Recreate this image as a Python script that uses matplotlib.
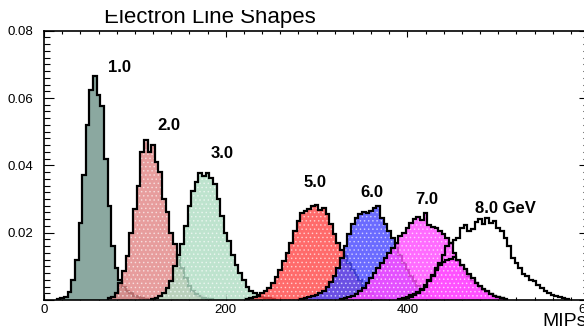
import matplotlib
matplotlib.use("Agg")
import matplotlib.pyplot as plt
import numpy as np
from matplotlib.patches import Rectangle

plt.rcParams['font.family'] = ['Liberation Sans', 'DejaVu Sans']
plt.rcParams['hatch.linewidth'] = 0.6

# ---------------- data ----------------
BIN_WIDTH = 4  # MIPs per bin

labels = ['1.0', '2.0', '3.0', '5.0', '6.0', '7.0', '', '8.0 GeV']
starts = [14, 70, 118, 222, 282, 326, 390, 394]

h1 = [0.0002, 0.0005, 0.0010, 0.0025, 0.0060, 0.0120, 0.0230, 0.0370, 0.0520, 0.0625,
      0.0665, 0.0610, 0.0575, 0.0420, 0.0280, 0.0160, 0.0095, 0.0058, 0.0040, 0.0028,
      0.0020, 0.0013, 0.0008, 0.0005, 0.0003]
h2 = [0.0005, 0.0010, 0.0022, 0.0050, 0.0085, 0.0130, 0.0200, 0.0270, 0.0340, 0.0440,
      0.0475, 0.0440, 0.0460, 0.0410, 0.0380, 0.0300, 0.0260, 0.0200, 0.0165, 0.0125,
      0.0095, 0.0065, 0.0042, 0.0028, 0.0018, 0.0011, 0.0007, 0.0004, 0.0002]
h3 = [0.0003, 0.0007, 0.0012, 0.0020, 0.0035, 0.0055, 0.0100, 0.0135, 0.0165, 0.0220,
      0.0280, 0.0325, 0.0350, 0.0378, 0.0368, 0.0378, 0.0362, 0.0345, 0.0300, 0.0250,
      0.0200, 0.0175, 0.0135, 0.0105, 0.0080, 0.0058, 0.0040, 0.0028, 0.0020, 0.0014,
      0.0010, 0.0007, 0.0005, 0.0003]
h5 = [0.0003, 0.0005, 0.0008, 0.0013, 0.0020, 0.0027, 0.0035, 0.0050, 0.0068, 0.0090,
      0.0115, 0.0140, 0.0170, 0.0205, 0.0235, 0.0258, 0.0265, 0.0270, 0.0280, 0.0282,
      0.0268, 0.0272, 0.0255, 0.0225, 0.0195, 0.0170, 0.0150, 0.0130, 0.0110, 0.0090,
      0.0075, 0.0058, 0.0042, 0.0030, 0.0020, 0.0013, 0.0008, 0.0005]
h6 = [0.0003, 0.0005, 0.0008, 0.0011, 0.0015, 0.0020, 0.0028, 0.0038, 0.0052, 0.0070,
      0.0095, 0.0125, 0.0160, 0.0195, 0.0225, 0.0245, 0.0255, 0.0262, 0.0258, 0.0265,
      0.0272, 0.0278, 0.0245, 0.0225, 0.0205, 0.0185, 0.0165, 0.0135, 0.0110, 0.0090,
      0.0072, 0.0056, 0.0042, 0.0030, 0.0020, 0.0012, 0.0007, 0.0004]
h7 = [0.0003, 0.0005, 0.0008, 0.0012, 0.0018, 0.0026, 0.0036, 0.0050, 0.0065, 0.0080,
      0.0095, 0.0110, 0.0125, 0.0140, 0.0155, 0.0170, 0.0190, 0.0200, 0.0215, 0.0230,
      0.0242, 0.0248, 0.0238, 0.0258, 0.0222, 0.0218, 0.0215, 0.0205, 0.0195, 0.0185,
      0.0170, 0.0140, 0.0115, 0.0100, 0.0085, 0.0072, 0.0060, 0.0050, 0.0040, 0.0030,
      0.0024, 0.0017, 0.0012, 0.0008, 0.0005]
h7b = [0.0003, 0.0006, 0.0010, 0.0014, 0.0019, 0.0025, 0.0033, 0.0045, 0.0060, 0.0075,
       0.0095, 0.0105, 0.0112, 0.0118, 0.0123, 0.0128, 0.0120, 0.0105, 0.0092, 0.0078,
       0.0065, 0.0050, 0.0042, 0.0034, 0.0026, 0.0019, 0.0013, 0.0009, 0.0005, 0.0003]
h8 = [0.0003, 0.0006, 0.0010, 0.0015, 0.0022, 0.0030, 0.0040, 0.0055, 0.0070, 0.0090,
      0.0110, 0.0135, 0.0160, 0.0170, 0.0178, 0.0185, 0.0215, 0.0222, 0.0205, 0.0212,
      0.0232, 0.0240, 0.0225, 0.0243, 0.0228, 0.0235, 0.0215, 0.0205, 0.0185, 0.0160,
      0.0125, 0.0110, 0.0095, 0.0078, 0.0072, 0.0060, 0.0055, 0.0045, 0.0035, 0.0028,
      0.0022, 0.0016, 0.0012, 0.0009, 0.0006, 0.0004]
series = [h1, h2, h3, h5, h6, h7, h7b, h8]

x_ticks = [0, 200, 400, 600]
x_ticklabels = ['0', '200', '400', '600']
y_ticks = [0.0, 0.02, 0.04, 0.06, 0.08]
y_ticklabels = ['', '0.02', '0.04', '0.06', '0.08']

# ---------------- style ----------------
fills = [((0.545, 0.659, 0.627), 1.0, False),
         ((0.886, 0.533, 0.533), 0.82, True),
         ((0.690, 0.867, 0.769), 0.82, True),
         ((1.0, 0.290, 0.290), 0.82, True),
         ((0.290, 0.290, 1.0), 0.82, True),
         ((1.0, 0.290, 1.0), 0.82, True),
         ((1.0, 0.290, 1.0), 0.82, True),
         (None, 0.0, False)]
label_pos = [(70, 0.0676), (125, 0.0504), (183.5, 0.0423), (286, 0.0336),
             (348.5, 0.0306), (409, 0.0286), (0, 0), (475, 0.0257)]

W, H = 584, 328
fig = plt.figure(figsize=(W / 100, H / 100), dpi=100)
fig.patch.set_facecolor('white')
ax = fig.add_axes([44 / W, 28 / H, (589 - 44) / W, (300 - 30.7) / H])
ax.set_xlim(0, 600)
ax.set_ylim(0, 0.08)
ax.set_axisbelow(True)

for i, (vals, start) in enumerate(zip(series, starts)):
    edges = start + BIN_WIDTH * np.arange(len(vals) + 1)
    col, a, patterned = fills[i]
    if col is not None:
        ax.stairs(vals, edges, fill=True, facecolor=(*col, a), edgecolor='none',
                  zorder=2 + 3 * i)
        if patterned:
            ax.stairs(vals, edges, fill=True, facecolor='none',
                      edgecolor=(1, 1, 1, 0.55), hatch='....', lw=0,
                      zorder=2.5 + 3 * i)
    ax.stairs(vals, edges, baseline=0, color='black', lw=1.6, zorder=3 + 3 * i)

for lab, (lx, ly) in zip(labels, label_pos):
    if lab:
        ax.text(lx, ly, lab, fontsize=12, fontweight='bold', ha='left', va='baseline',
                zorder=40)

ax.set_xticks(x_ticks)
ax.set_xticklabels(x_ticklabels)
ax.set_yticks(y_ticks)
ax.set_yticklabels(y_ticklabels)
ax.xaxis.set_minor_locator(matplotlib.ticker.MultipleLocator(20))
ax.yaxis.set_minor_locator(matplotlib.ticker.MultipleLocator(0.002))
ax.tick_params(axis='both', which='both', direction='in', top=True, right=True,
               labelsize=9.5, width=0.8, colors='black')
ax.tick_params(axis='x', which='major', length=4.5, pad=3)
ax.tick_params(axis='x', which='minor', length=2.3)
ax.tick_params(axis='y', which='major', length=7.5, pad=8)
ax.tick_params(axis='y', which='minor', length=4.5)
for sp in ax.spines.values():
    sp.set_linewidth(1.2)
    sp.set_zorder(45)

fig.text(210 / W, 1 - 22.7 / H, 'Electron Line Shapes', fontsize=16,
         ha='center', va='baseline')
fig.add_artist(Rectangle((0, 1 - 10 / H), 1, 10 / H, transform=fig.transFigure,
                         facecolor='white', edgecolor='none', zorder=50))
fig.text(542 / W, 1 - 326 / H, 'MIPs', fontsize=14, ha='left', va='baseline')

fig.savefig('out.png', dpi=100, facecolor='white')
